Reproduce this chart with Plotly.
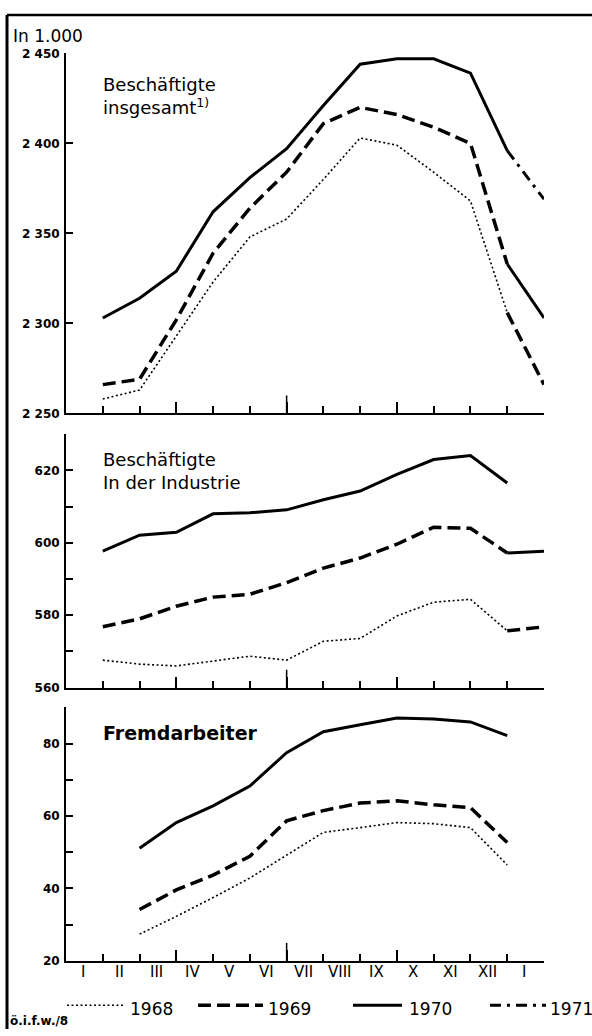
import plotly.graph_objects as go

# ---------------- data ----------------
# x positions: 1..12 = I..XII, 13 = January of following year
month_pos = list(range(1, 13))
next_jan_pos = 13
month_labels = ["I", "II", "III", "IV", "V", "VI", "VII", "VIII", "IX", "X", "XI", "XII", "I"]

# Beschäftigte insgesamt (in 1.000)
tot_1968 = [2258, 2263, 2293, 2323, 2348, 2358, 2380, 2403, 2399, 2384, 2368, 2306]
tot_1969 = [2266, 2269, 2302, 2339, 2364, 2384, 2411, 2420, 2416, 2409, 2400, 2333]
tot_1970 = [2303, 2314, 2329, 2362, 2381, 2397, 2421, 2444, 2447, 2447, 2439, 2396]
tot_1971 = [2369]

# Beschäftigte in der Industrie (in 1.000)
ind_1968 = [567.6, 566.5, 566.0, 567.3, 568.7, 567.6, 572.8, 573.6, 579.8, 583.6, 584.4, 575.7]
ind_1969 = [576.8, 579.0, 582.5, 585.0, 585.8, 589.0, 593.0, 595.8, 599.6, 604.3, 604.0, 597.2]
ind_1970 = [597.7, 602.1, 602.9, 608.0, 608.3, 609.1, 611.9, 614.3, 618.9, 623.0, 624.1, 616.5]
ind_1971 = [None]

# Fremdarbeiter (in 1.000)
fa_1968 = [None, 27.4, 32.3, 37.5, 42.9, 49.2, 55.5, 56.8, 58.2, 57.9, 56.8, 46.5]
fa_1969 = [None, 34.2, 39.6, 43.7, 48.9, 58.7, 61.5, 63.6, 64.2, 63.1, 62.3, 52.7]
fa_1970 = [None, 51.1, 58.2, 62.8, 68.3, 77.5, 83.3, 85.2, 87.1, 86.8, 86.0, 82.2]
fa_1971 = [None]

years = ["1968", "1969", "1970", "1971"]
panels = [
    dict(series=[tot_1968, tot_1969, tot_1970, tot_1971], range=[2250, 2450],
         tickvals=[2250, 2300, 2350, 2400, 2450],
         ticktext=["2 250", "2 300", "2 350", "2 400", "2 450"], minor=[]),
    dict(series=[ind_1968, ind_1969, ind_1970, ind_1971], range=[560, 630],
         tickvals=[560, 580, 600, 620], ticktext=["560", "580", "600", "620"],
         minor=[570, 590, 610, 630]),
    dict(series=[fa_1968, fa_1969, fa_1970, fa_1971], range=[20, 90],
         tickvals=[20, 40, 60, 80], ticktext=["20", "40", "60", "80"],
         minor=[30, 50, 70, 90]),
]

# ---------------- styling ----------------
W, H = 592, 1036
def px(x): return x / W
def py(y): return 1 - y / H

STY = {
    "1968": dict(color="black", width=1.6, dash="2px,2.5px"),
    "1969": dict(color="black", width=3.5, dash="13px,6px"),
    "1970": dict(color="black", width=3.0, dash="solid"),
    "1971": dict(color="black", width=3.0, dash="11px,6px,3px,6px"),
}
FONT = "DejaVu Sans"

x_dom = [px(66), px(544)]
y_doms = [[py(412), py(47)], [py(690), py(433)], [py(967), py(710)]]

fig = go.Figure()
layout = dict(width=W, height=H, margin=dict(l=0, r=0, t=0, b=0),
              paper_bgcolor="white", plot_bgcolor="white", showlegend=False,
              font=dict(family=FONT, color="black"))

shapes = []
for i, p in enumerate(panels):
    n = "" if i == 0 else str(i + 1)
    xa, ya = "x" + n, "y" + n
    ser = p["series"]
    for j in range(3):
        vals = ser[j]
        fig.add_trace(go.Scatter(x=month_pos, y=vals, mode="lines", xaxis=xa, yaxis=ya,
                                 line=STY[years[j]], name=years[j], connectgaps=False))
        nxt = ser[j + 1][0]
        if nxt is not None and vals[-1] is not None:
            fig.add_trace(go.Scatter(x=[month_pos[-1], next_jan_pos], y=[vals[-1], nxt],
                                     mode="lines", xaxis=xa, yaxis=ya,
                                     line=STY[years[j + 1]], name=years[j + 1]))
    layout["xaxis" + n] = dict(domain=x_dom, range=[0, 13], anchor=ya,
                               showgrid=False, zeroline=False, showline=True,
                               linecolor="black", linewidth=2,
                               tickmode="array", tickvals=[3, 6, 9], ticks="inside",
                               ticklen=11, tickwidth=1.5, tickcolor="black",
                               showticklabels=False,
                               minor=dict(tickmode="array",
                                          tickvals=[0, 1, 2, 4, 5, 7, 8, 10, 11, 12, 13],
                                          ticks="inside", ticklen=7, tickwidth=1.5,
                                          tickcolor="black"))
    layout["yaxis" + n] = dict(domain=y_doms[i], range=p["range"], anchor=xa,
                               showgrid=False, zeroline=False, showline=True,
                               linecolor="black", linewidth=2,
                               tickmode="array", tickvals=p["tickvals"], ticktext=p["ticktext"],
                               ticks="inside", ticklen=7, tickwidth=1.5, tickcolor="black",
                               tickfont=dict(family=FONT, size=12, weight="bold"),
                               ticklabelstandoff=2,
                               minor=dict(tickmode="array", tickvals=p["minor"],
                                          ticks="inside", ticklen=7, tickwidth=1.5,
                                          tickcolor="black"))
    # longer half-year tick at VI/VII
    shapes.append(dict(type="line", xref=xa, yref=ya, ysizemode="pixel",
                       yanchor=p["range"][0], x0=6, x1=6, y0=0, y1=18,
                       line=dict(color="black", width=1.5)))

# frame lines
shapes.append(dict(type="line", xref="paper", yref="paper", x0=px(7), x1=px(592),
                   y0=py(8), y1=py(8), line=dict(color="black", width=2.5)))
shapes.append(dict(type="line", xref="paper", yref="paper", x0=px(7), x1=px(7),
                   y0=py(8), y1=py(1036), line=dict(color="black", width=3)))

# legend keys
leg_keys = [("1968", 67, 123, 128), ("1969", 198, 263, 266), ("1970", 353, 402, 407),
            ("1971", 490, 546, 548)]
annotations = []
for yr, a, b, t in leg_keys:
    shapes.append(dict(type="line", xref="paper", yref="paper", x0=px(a), x1=px(b),
                       y0=py(1012), y1=py(1012), line=STY[yr]))
    annotations.append(dict(text=yr, xref="paper", yref="paper", x=px(t), y=py(1016),
                            xanchor="left", yanchor="middle", showarrow=False,
                            font=dict(family=FONT, size=17)))

# month labels under bottom axis
for k, lab in enumerate(month_labels):
    annotations.append(dict(text=lab, xref="x3", yref="paper", x=k + 0.45, y=py(978),
                            xanchor="center", yanchor="middle", showarrow=False,
                            font=dict(family=FONT, size=15)))

def note(text, x, y, size, weight="normal", yanchor="middle"):
    annotations.append(dict(text=text, xref="paper", yref="paper", x=px(x), y=py(y),
                            xanchor="left", yanchor=yanchor, showarrow=False, align="left",
                            font=dict(family=FONT, size=size, weight=weight)))

note("In 1.000", 11, 29, 17)
note("Beschäftigte<br>insgesamt<sup>1)</sup>", 101, 90, 18)
note("Beschäftigte<br>In der Industrie", 101, 470, 18)
note("Fremdarbeiter", 101, 736, 19, "bold")
note("ö.i.f.w./8", 8, 1028, 12, "bold")

layout["shapes"] = shapes
layout["annotations"] = annotations
fig.update_layout(**layout)
fig.write_html("out.html", config={"displayModeBar": False},
               post_script="document.body.style.margin='0';document.body.style.overflow='hidden';")
